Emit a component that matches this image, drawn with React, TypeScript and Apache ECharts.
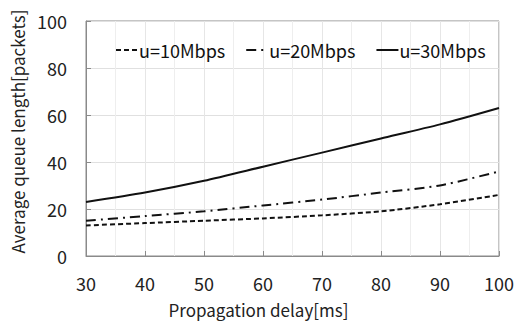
import React, { useEffect, useRef } from "react";
import * as echarts from "echarts";

const delays = [30, 40, 50, 60, 70, 80, 90, 100];
const u10 = [13, 14, 15, 16, 17.3, 19, 22, 26];
const u20 = [15, 17, 19, 21.5, 24, 27, 30, 36];
const u30 = [23, 27, 32, 38, 44, 50, 56, 63];
const seriesNames = ["u=10Mbps", "u=20Mbps", "u=30Mbps"];

const FONT = "'Noto Sans CJK KR', 'Noto Sans', sans-serif";

export default function App() {
  const ref = useRef<HTMLDivElement>(null);
  useEffect(() => {
    if (!ref.current) return;
    const chart = echarts.init(ref.current, undefined, { renderer: "svg" });
    const toPairs = (arr: number[]) => delays.map((d, i) => [d, arr[i]]);
    const mk = (name: string, data: number[], type: any) => ({
      name,
      type: "line",
      data: toPairs(data),
      smooth: 0.25,
      symbol: "none",
      lineStyle: { color: "#111", width: 2, type },
      itemStyle: { color: "#111" },
    });
    chart.setOption({
      animation: false,
      backgroundColor: "#fff",
      grid: {
        left: 86,
        right: 33,
        top: 21,
        bottom: 72,
        show: true,
        borderColor: "#8a8a8a",
        borderWidth: 1,
      },
      legend: {
        top: 36,
        left: 110,
        itemGap: 20,
        itemWidth: 22,
        itemHeight: 10,
        itemStyle: { opacity: 0 },
        textStyle: { fontFamily: FONT, fontSize: 18, color: "#111", padding: [0, 0, 0, -4] },
        data: seriesNames,
      },
      xAxis: {
        type: "value",
        min: 30,
        max: 100,
        interval: 10,
        name: "Propagation delay[ms]",
        nameLocation: "middle",
        nameGap: 45,
        nameTextStyle: { fontFamily: FONT, fontSize: 17, color: "#222", padding: [0, 68, 0, 0] },
        axisLine: { lineStyle: { color: "#8a8a8a", width: 1 } },
        axisTick: { inside: true, length: 5, lineStyle: { color: "#8a8a8a" } },
        axisLabel: { fontFamily: FONT, fontSize: 18, color: "#222", margin: 18 },
        splitLine: { show: true, lineStyle: { color: "#e6e6e6", width: 1 } },
        minorTick: { show: false, splitNumber: 2 },
        minorSplitLine: { show: true, lineStyle: { color: "#eeeeee", width: 1 } },
      },
      yAxis: {
        type: "value",
        min: 0,
        max: 100,
        interval: 20,
        name: "Average queue length[packets]",
        nameLocation: "middle",
        nameGap: 60,
        nameTextStyle: { fontFamily: FONT, fontSize: 17, color: "#222", padding: [0, 0, 0, 14] },
        axisLine: { show: true, lineStyle: { color: "#8a8a8a", width: 1 } },
        axisTick: { show: true, inside: true, length: 5, lineStyle: { color: "#8a8a8a" } },
        axisLabel: { fontFamily: FONT, fontSize: 18, color: "#222", margin: 19 },
        splitLine: { show: true, lineStyle: { color: "#e0e0e0", width: 1 } },
      },
      series: [
        mk(seriesNames[0], u10, [5, 3]),
        mk(seriesNames[1], u20, [10, 5, 2, 5]),
        mk(seriesNames[2], u30, "solid"),
      ],
    });
    return () => chart.dispose();
  }, []);
  return (
    <div
      ref={ref}
      style={{ position: "fixed", left: 0, top: 0, width: 532, height: 328 }}
    />
  );
}
